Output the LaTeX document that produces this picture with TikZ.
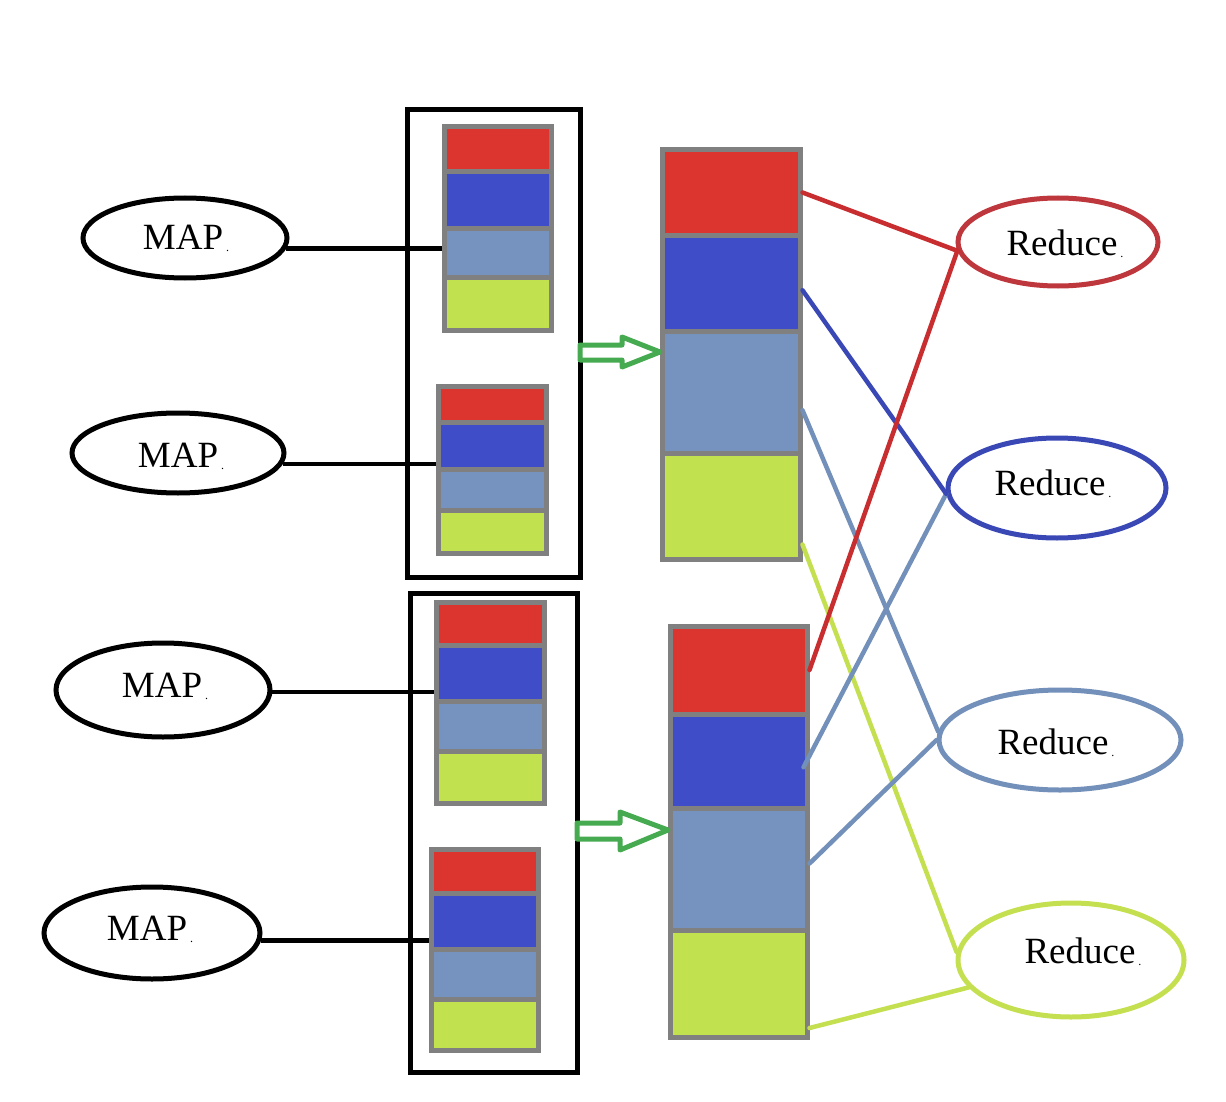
\documentclass[tikz,border=0pt]{standalone}
\usepackage{fontspec}
\setmainfont{Liberation Serif}
\usetikzlibrary{shapes.geometric}
\definecolor{cred}{RGB}{220,53,48}
\definecolor{cblue}{RGB}{63,77,200}
\definecolor{clb}{RGB}{117,147,190}
\definecolor{cgreen}{RGB}{194,225,78}
\definecolor{cgray}{RGB}{128,128,128}
\definecolor{lred}{RGB}{200,45,48}
\definecolor{lblue}{RGB}{58,72,182}
\definecolor{llb}{RGB}{115,144,186}
\definecolor{lgreen}{RGB}{196,224,80}
\definecolor{agreen}{RGB}{70,170,80}
\definecolor{ered}{RGB}{190,55,60}
\newcommand\segbox[6]{\node[seg,fill=#2,minimum width={(#4-#3)*1pt},minimum height={(#6-#5)*1pt}] (#1) at ({(#3+#4)/2},{(#5+#6)/2}) {};}
\newcommand\tdot{\rlap{\hspace{3pt}\fontsize{12}{12}\selectfont\raisebox{-2pt}{.}}}
\begin{document}
\begin{tikzpicture}[x=1pt,y=-1pt,
  seg/.style={draw=cgray,line width=5pt,rectangle,inner sep=0pt},
  frm/.style={draw=black,line width=5pt,rectangle,inner sep=0pt},
  oval/.style={ellipse,draw,line width=5pt,inner sep=0pt},
  txt/.style={inner sep=0pt,font=\fontsize{37}{40}\selectfont},
  link/.style={line width=4.5pt},
  conn/.style={line width=4.5pt,line cap=round}]
\fill[white] (0,0) rectangle (1226,1102);
\useasboundingbox (0,0) rectangle (1226,1102);
% frames
\node[frm,minimum width=173pt,minimum height=467pt] (f1) at (493.5,343.5) {};
\node[frm,minimum width=167pt,minimum height=479pt] (f2) at (493.5,832.5) {};
% small stacks
\segbox{ar}{cred}{444}{551}{127}{171.5}
\segbox{ab}{cblue}{444}{551}{171.5}{228.5}
\segbox{al}{clb}{444}{551}{228.5}{277.5}
\segbox{ag}{cgreen}{444}{551}{277.5}{330}
\segbox{br}{cred}{438}{546}{386}{422}
\segbox{bb}{cblue}{438}{546}{422}{469}
\segbox{bl}{clb}{438}{546}{469}{510}
\segbox{bg}{cgreen}{438}{546}{510}{553}
\segbox{cr}{cred}{436}{544}{602}{645.5}
\segbox{cb}{cblue}{436}{544}{645.5}{701.5}
\segbox{cl}{clb}{436}{544}{701.5}{751.5}
\segbox{cg}{cgreen}{436}{544}{751.5}{803}
\segbox{dr}{cred}{431}{538}{849}{893.5}
\segbox{db}{cblue}{431}{538}{893.5}{949.5}
\segbox{dl}{clb}{431}{538}{949.5}{999.5}
\segbox{dg}{cgreen}{431}{538}{999.5}{1050}
% big stacks
\segbox{pr}{cred}{662}{800}{149.5}{235.5}
\segbox{pb}{cblue}{662}{800}{235.5}{331}
\segbox{pl}{clb}{662}{800}{331}{453.5}
\segbox{pg}{cgreen}{662}{800}{453.5}{559.5}
\segbox{qr}{cred}{670}{807}{626}{714}
\segbox{qb}{cblue}{670}{807}{714}{808.5}
\segbox{ql}{clb}{670}{807}{808.5}{930.5}
\segbox{qg}{cgreen}{670}{807}{930.5}{1037.5}
% MAP ellipses
\node[oval,minimum width=204pt,minimum height=80pt] (m1) at (185,238) {};
\node[oval,minimum width=212pt,minimum height=80pt] (m2) at (178,453) {};
\node[oval,minimum width=214pt,minimum height=94pt] (m3) at (163,690) {};
\node[oval,minimum width=216pt,minimum height=92pt] (m4) at (152,933) {};
\node[txt] (m1t) at (183,238.5) {MAP\tdot};
\node[txt] (m2t) at (178,456) {MAP\tdot};
\node[txt] (m3t) at (162,686) {MAP\tdot};
\node[txt] (m4t) at (147,929) {MAP\tdot};
% Reduce ellipses
\node[oval,draw=ered,minimum width=200pt,minimum height=88pt] (r1) at (1058,242) {};
\node[oval,draw=lblue,minimum width=218pt,minimum height=100pt] (r2) at (1057,488) {};
\node[oval,draw=llb,minimum width=242pt,minimum height=100pt] (r3) at (1060,740) {};
\node[oval,draw=lgreen,minimum width=226pt,minimum height=114pt] (r4) at (1071,960) {};
\node[txt] (r1t) at (1062,244) {Reduce\tdot};
\node[txt] (r2t) at (1050,484) {Reduce\tdot};
\node[txt] (r3t) at (1053,743) {Reduce\tdot};
\node[txt] (r4t) at (1080,952) {Reduce\tdot};
% MAP links
\draw[link] (m1.-6) -- (m1.-6 -| al.west);
\draw[link] (m2.-6) -- (m2.-6 -| bb.west);
\draw[link] (m3.-1) -- (m3.-1 -| cb.west);
\draw[link] (m4.-4) -- (m4.-4 -| db.west);
% green arrows
\draw[agreen,line width=5pt,line join=round,fill=white]
  (580,345) -- (622,345) -- (622,337) -- (660,352) -- (622,367) -- (622,360) -- (580,360) -- cycle;
\draw[agreen,line width=5pt,line join=round,fill=white]
  (577,823) -- (620,823) -- (620,812) -- (668,830) -- (620,850) -- (620,839) -- (577,839) -- cycle;
% shuffle connectors
\draw[conn,lgreen] ([yshift=-38pt]pg.east) -- (r4.176);
\draw[conn,lgreen] ([yshift=-44pt]qg.east) -- (r4.195);
\draw[conn,llb] ([yshift=-18pt]pl.east) -- (r3.176);
\draw[conn,llb] ([yshift=6pt]ql.east) -- (r3.west);
\draw[conn,llb] ([yshift=-6pt,xshift=-6pt]qb.east) -- (r2.183);
\draw[conn,lblue] ([yshift=-7pt]pb.east) -- (r2.183);
\draw[conn,lred] (qr.east) -- (r1.185);
\draw[conn,lred] (pr.east) -- (r1.185);
\end{tikzpicture}
\end{document}
